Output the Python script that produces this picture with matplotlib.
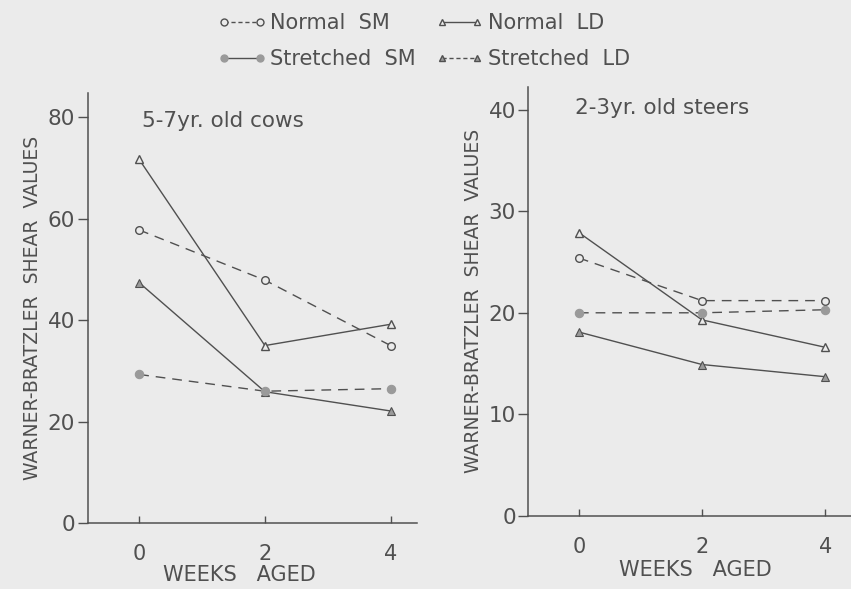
import matplotlib
matplotlib.use("Agg")
import matplotlib.pyplot as plt
from matplotlib.lines import Line2D

weeks = [0, 2, 4]

# 5-7 yr old cows
cows_normal_sm = [57.8, 47.9, 35.0]
cows_stretched_sm = [29.3, 26.0, 26.5]
cows_normal_ld = [71.7, 35.0, 39.2]
cows_stretched_ld = [47.4, 25.9, 22.1]

# 2-3 yr old steers
steers_normal_sm = [25.4, 21.2, 21.2]
steers_stretched_sm = [20.0, 20.0, 20.3]
steers_normal_ld = [27.9, 19.3, 16.6]
steers_stretched_ld = [18.1, 14.9, 13.7]

cows_yticks = [0, 20, 40, 60, 80]
steers_yticks = [0, 10, 20, 30, 40]
xticks = [0, 2, 4]

BG = "#ebebeb"
INK = "#505050"
FILL = "#9a9a9a"
plt.rcParams['font.family'] = ['DejaVu Sans']

fig = plt.figure(figsize=(8.51, 5.89), dpi=100, facecolor=BG)

def panel(rect, nsm, ssm, nld, sld, yticks, ytop, title, title_xy, xlab_xy):
    ax = fig.add_axes(rect)
    ax.set_facecolor(BG)
    lw = 1.0
    ms = 5.5
    dash = (0, (7, 5))
    ax.plot(weeks, nld, color=INK, lw=lw, ls='-', marker='^', ms=ms,
            mfc=BG, mec=INK, mew=1.0)
    ax.plot(weeks, sld, color=INK, lw=lw, ls='-', marker='^', ms=ms,
            mfc=FILL, mec=INK, mew=0.8)
    ax.plot(weeks, nsm, color=INK, lw=lw, ls=dash, marker='o', ms=ms,
            mfc=BG, mec=INK, mew=1.0)
    ax.plot(weeks, ssm, color=INK, lw=lw, ls=dash, marker='o', ms=ms + 0.5,
            mfc=FILL, mec=FILL, mew=0.8)
    for s in ['top', 'right']:
        ax.spines[s].set_visible(False)
    for s in ['left', 'bottom']:
        ax.spines[s].set_color(INK)
        ax.spines[s].set_linewidth(1.1)
    ax.set_xlim(-0.82, 4.42)
    ax.set_ylim(0, ytop)
    ax.set_xticks(xticks)
    ax.set_yticks(yticks)
    ax.tick_params(axis='x', direction='in', length=5, width=1, colors=INK,
                   labelsize=15, pad=15)
    ax.tick_params(axis='y', direction='out', length=7, width=1, colors=INK,
                   labelsize=15.5, pad=2)
    ax.set_xlabel("WEEKS   AGED", fontsize=15, color=INK)
    ax.xaxis.set_label_coords(*xlab_xy)
    ax.set_ylabel("WARNER-BRATZLER  SHEAR  VALUES", fontsize=13.5, color=INK,
                  labelpad=4)
    ax.text(title_xy[0], title_xy[1], title, transform=ax.transAxes,
            fontsize=15.5, color=INK, ha='left', va='center')
    return ax

panel([0.103, 0.112, 0.387, 0.730], cows_normal_sm, cows_stretched_sm,
      cows_normal_ld, cows_stretched_ld, cows_yticks, 84.8,
      "5-7yr. old cows", (0.165, 0.935), (0.46, -0.098))
panel([0.621, 0.1245, 0.379, 0.7285], steers_normal_sm, steers_stretched_sm,
      steers_normal_ld, steers_stretched_ld, steers_yticks, 42.3,
      "2-3yr. old steers", (0.145, 0.95), (0.517, -0.103))

handles = [
    Line2D([], [], color=INK, lw=1.0, ls=(0, (3, 2)), marker='o', ms=5,
           mfc=BG, mec=INK),
    Line2D([], [], color=INK, lw=1.0, ls='-', marker='o', ms=5,
           mfc=FILL, mec=FILL),
    Line2D([], [], color=INK, lw=1.0, ls='-', marker='^', ms=5,
           mfc=BG, mec=INK),
    Line2D([], [], color=INK, lw=1.0, ls=(0, (3, 2)), marker='^', ms=5,
           mfc=FILL, mec=INK),
]
labels = ["Normal  SM", "Stretched  SM", "Normal  LD", "Stretched  LD"]
leg = fig.legend(handles, labels, ncol=2, numpoints=2, loc='upper center',
                 bbox_to_anchor=(0.498, 0.997), frameon=False, fontsize=15,
                 handlelength=2.3, handletextpad=0.2, columnspacing=0.95,
                 labelspacing=0.75, borderaxespad=0.15)
for t in leg.get_texts():
    t.set_color(INK)

fig.savefig("out.png", dpi=100, facecolor=BG)
